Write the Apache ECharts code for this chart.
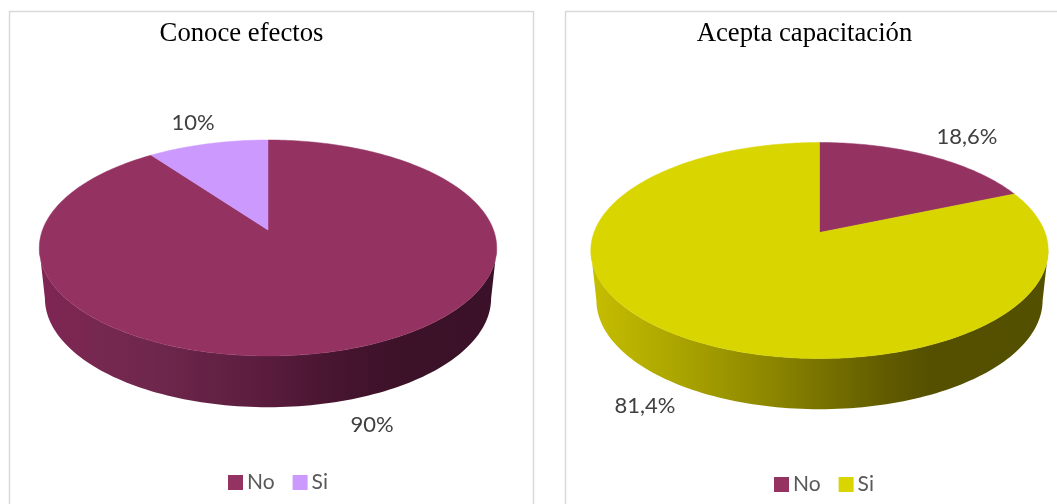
<!DOCTYPE html>
<html>
<head>
<meta charset="utf-8">
<style>html,body{margin:0;padding:0;background:#fff}#c{width:1057px;height:504px}</style>
<script src="https://cdn.jsdelivr.net/npm/echarts@6/dist/echarts.min.js"></script>
</head>
<body>
<div id="c"></div>
<script>
var categories = ['No', 'Si'];
var conoceValues = [90, 10];
var aceptaValues = [18.6, 81.4];
var conoceLabels = ['90%', '10%'];
var aceptaLabels = ['18,6%', '81,4%'];
var titles = ['Conoce efectos', 'Acepta capacitación'];

var PLUM = '#943262', LILAC = '#CC99FF', YELLOW = '#D9D500';
var panels = [
  {
    title: titles[0], titleX: 236.5, values: conoceValues, labels: conoceLabels, colors: [PLUM, LILAC],
    apexX: 268, apexY: 230, baseX: 268, baseY: 280,
    labelPos: [[372, 425], [193, 123]], legendX: 228, legendY: 472,
    shade: [[40, '#802554'], [100, '#76284F'], [160, '#6E274C'], [265, '#5A1C3D'], [345, '#45142E'], [405, '#3C1228'], [497, '#3A1128']]
  },
  {
    title: titles[1], titleX: 799.5, values: aceptaValues, labels: aceptaLabels, colors: [PLUM, YELLOW],
    apexX: 819.5, apexY: 232.5, baseX: 819.5, baseY: 282,
    labelPos: [[967, 137], [645, 406]], legendX: 774, legendY: 474,
    shade: [[591, '#C6BE00'], [680, '#AAA400'], [765, '#8E8800'], [825, '#777100'], [890, '#605A00'], [930, '#555000'], [1047, '#535000']]
  }
];
var TOP_RX = 225.5, TOP_RY = 105, BASE_RX = 220, BASE_RY = 106, PERSP = 1 / 6;
var SIDE_FROM = Math.acos(-PERSP), SIDE_TO = Math.PI * 2 - SIDE_FROM;

function project(cx, cy, rx, ry, t) {
  var d = 1 + PERSP * Math.cos(t);
  return [cx + rx * Math.sin(t) / d, cy - ry * Math.cos(t) / d];
}

function sideFill(stops) {
  var x0 = stops[0][0], x1 = stops[stops.length - 1][0];
  return new echarts.graphic.LinearGradient(x0, 0, x1, 0, stops.map(function (s) {
    return { offset: (s[0] - x0) / (x1 - x0), color: s[1] };
  }), true);
}

function sliceRender(panel, idx) {
  return function () {
    var total = panel.values.reduce(function (a, b) { return a + b; }, 0);
    var before = panel.values.slice(0, idx).reduce(function (a, b) { return a + b; }, 0);
    var t0 = before / total * Math.PI * 2;
    var t1 = (before + panel.values[idx]) / total * Math.PI * 2;
    var steps = Math.max(4, Math.round((t1 - t0) / (Math.PI / 180)));
    var children = [];
    var topPts = [[panel.apexX, panel.apexY]];
    for (var i = 0; i <= steps; i++) {
      topPts.push(project(panel.apexX, panel.apexY, TOP_RX, TOP_RY, t0 + (t1 - t0) * i / steps));
    }
    var s0 = Math.max(t0, SIDE_FROM), s1 = Math.min(t1, SIDE_TO);
    if (s1 > s0) {
      var rim = [], base = [];
      for (var j = 0; j <= 120; j++) {
        var t = s0 + (s1 - s0) * j / 120;
        rim.push(project(panel.apexX, panel.apexY, TOP_RX, TOP_RY, t));
        base.push(project(panel.baseX, panel.baseY, BASE_RX, BASE_RY, t));
      }
      children.push({
        type: 'polygon', z2: 1, silent: true,
        shape: { points: rim.concat(base.reverse()) },
        style: { fill: sideFill(panel.shade) }
      });
    }
    children.push({
      type: 'polygon', z2: 5, silent: true,
      shape: { points: topPts },
      style: { fill: panel.colors[idx], stroke: panel.colors[idx], lineWidth: 0.5 }
    });
    children.push({
      type: 'text', z2: 9, silent: true,
      style: {
        text: panel.labels[idx], x: panel.labelPos[idx][0], y: panel.labelPos[idx][1],
        align: 'center', verticalAlign: 'middle',
        font: '22px Lato', fill: '#404040'
      }
    });
    return { type: 'group', children: children };
  };
}

var series = [];
panels.forEach(function (p) {
  categories.forEach(function (name, i) {
    series.push({
      type: 'custom', name: name, coordinateSystem: 'none', silent: true,
      animation: false, itemStyle: { color: p.colors[i] },
      data: [p.values[i]], renderItem: sliceRender(p, i)
    });
  });
});

var chart = echarts.init(document.getElementById('c'), null, { renderer: 'canvas' });
chart.setOption({
  backgroundColor: '#ffffff',
  animation: false,
  title: panels.map(function (p) {
    return {
      text: p.title, left: p.titleX, top: 15, textAlign: 'center',
      textStyle: { fontFamily: 'Liberation Serif', fontSize: 26.7, fontWeight: 'normal', color: '#000000' }
    };
  }),
  legend: panels.map(function (p) {
    return {
      left: p.legendX, top: p.legendY, icon: 'rect', itemWidth: 15, itemHeight: 15, itemGap: 18,
      padding: 0, selectedMode: false,
      textStyle: { fontFamily: 'Lato', fontSize: 21, color: '#595959', padding: [0, 0, 0, -1] },
      data: categories.map(function (n, i) { return { name: n, itemStyle: { color: p.colors[i] } }; })
    };
  }),
  graphic: [
    { type: 'rect', silent: true, z: -1, shape: { x: 9.5, y: 11.5, width: 524, height: 600 }, style: { fill: '#fff', stroke: '#D9D9D9', lineWidth: 1.5 } },
    { type: 'rect', silent: true, z: -1, shape: { x: 565.5, y: 11.5, width: 600, height: 600 }, style: { fill: '#fff', stroke: '#D9D9D9', lineWidth: 1.5 } }
  ],
  series: series
});
</script>
</body>
</html>
